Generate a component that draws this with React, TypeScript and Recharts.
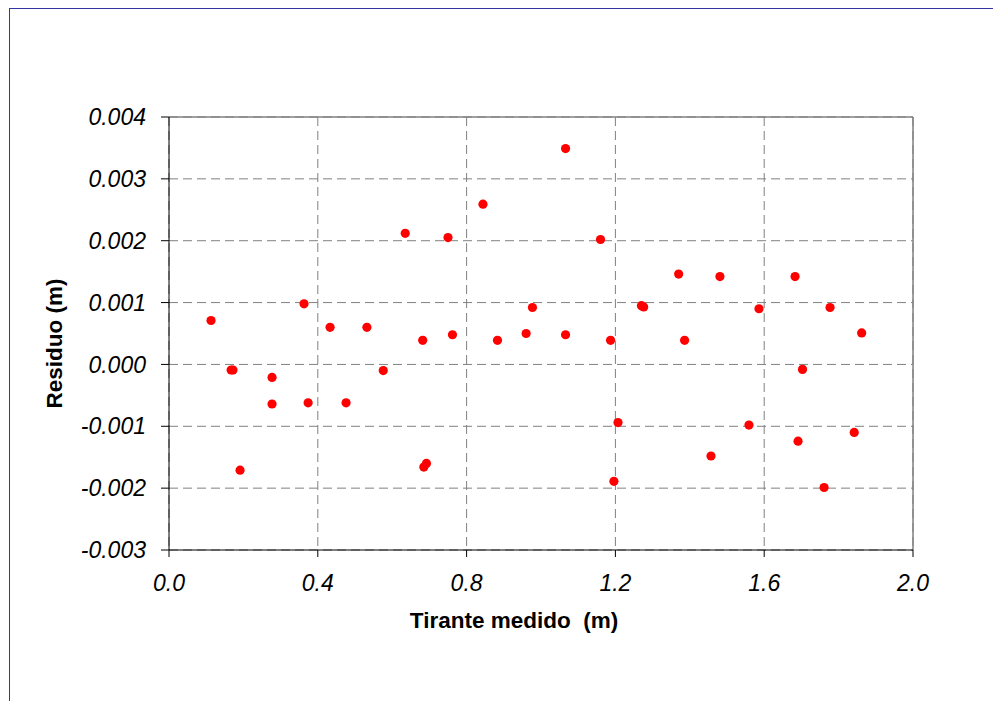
import React from 'react';
import {
  ScatterChart,
  Scatter,
  XAxis,
  YAxis,
  CartesianGrid,
  ReferenceLine,
  Label,
} from 'recharts';

// Tirante medido (m)
const tirante = [
  0.113, 0.167, 0.172, 0.191, 0.277, 0.277, 0.363, 0.374, 0.433, 0.476,
  0.532, 0.576, 0.635, 0.682, 0.685, 0.692, 0.75, 0.762, 0.844, 0.883,
  0.96, 0.977, 1.066, 1.066, 1.16, 1.187, 1.196, 1.207, 1.27, 1.276,
  1.37, 1.386, 1.457, 1.481, 1.559, 1.586, 1.683, 1.691, 1.703, 1.761,
  1.777, 1.842, 1.862,
];

// Residuo (m)
const residuo = [
  0.00071, -0.00009, -0.00009, -0.00171, -0.00021, -0.00064, 0.00098, -0.00062, 0.0006, -0.00062,
  0.0006, -0.0001, 0.00212, 0.00039, -0.00166, -0.0016, 0.00205, 0.00048, 0.00259, 0.00039,
  0.0005, 0.00092, 0.00349, 0.00048, 0.00202, 0.00039, -0.00189, -0.00094, 0.00095, 0.00093,
  0.00146, 0.00039, -0.00148, 0.00142, -0.00098, 0.0009, 0.00142, -0.00124, -0.00008, -0.00199,
  0.00092, -0.0011, 0.00051,
];

const xTicks = [0, 0.4, 0.8, 1.2, 1.6, 2.0];
const yTicks = [-0.003, -0.002, -0.001, 0, 0.001, 0.002, 0.003, 0.004];

const data = tirante.map((x, i) => ({ x, y: residuo[i] }));

const FONT = '"Liberation Sans", Arial, sans-serif';

const Dot = (props: any) => <circle cx={props.cx} cy={props.cy} r={4.6} fill="#ff0000" />;

export default function App() {
  return (
    <div style={{ position: 'fixed', left: 0, top: 0, width: 993, height: 701, overflow: 'hidden', background: '#fff' }}>
      <div
        style={{
          position: 'absolute',
          left: 9,
          top: 8,
          width: 990,
          height: 700,
          borderTop: '1px solid #3535a5',
          borderLeft: '1px solid #3535a5',
        }}
      />
      <div style={{ position: 'absolute', left: 0, top: 0 }}>
        <ScatterChart
          width={993}
          height={701}
          margin={{ top: 117, right: 80, bottom: 0, left: 0 }}
          style={{ fontFamily: FONT }}
        >
          <CartesianGrid stroke="#808080" strokeDasharray="9 5" />
          <XAxis
            type="number"
            dataKey="x"
            domain={[0, 2]}
            ticks={xTicks}
            tickFormatter={(v: number) => v.toFixed(1)}
            height={151}
            stroke="#000"
            tickSize={7}
            tickMargin={18}
            tick={{ fill: '#000', fontSize: 23, fontStyle: 'italic', fontFamily: FONT }}
          >
            <Label
              content={(p: any) => {
                const vb = p.viewBox;
                return (
                  <text
                    x={vb.x + vb.width / 2 - 27}
                    y={628}
                    textAnchor="middle"
                    fontFamily={FONT}
                    fontWeight="bold"
                    fontSize={22.5}
                    fill="#000"
                    style={{ whiteSpace: 'pre' }}
                  >
                    Tirante medido  (m)
                  </text>
                );
              }}
            />
          </XAxis>
          <YAxis
            type="number"
            dataKey="y"
            domain={[-0.003, 0.004]}
            ticks={yTicks}
            tickFormatter={(v: number) => v.toFixed(3)}
            width={169}
            stroke="#000"
            tickSize={8}
            tickMargin={15}
            tick={{ fill: '#000', fontSize: 23, fontStyle: 'italic', fontFamily: FONT }}
          >
            <Label
              content={(p: any) => {
                const vb = p.viewBox;
                const cy = vb.y + vb.height / 2 + 10;
                return (
                  <text
                    x={62}
                    y={cy}
                    transform={`rotate(-90 62 ${cy})`}
                    textAnchor="middle"
                    fontFamily={FONT}
                    fontWeight="bold"
                    fontSize={22.5}
                    fill="#000"
                  >
                    Residuo (m)
                  </text>
                );
              }}
            />
          </YAxis>
          <ReferenceLine y={0.004} stroke="#808080" strokeWidth={1.5} />
          <ReferenceLine x={2} stroke="#808080" strokeWidth={1.5} />
          <Scatter data={data} shape={Dot} isAnimationActive={false} />
        </ScatterChart>
      </div>
    </div>
  );
}
